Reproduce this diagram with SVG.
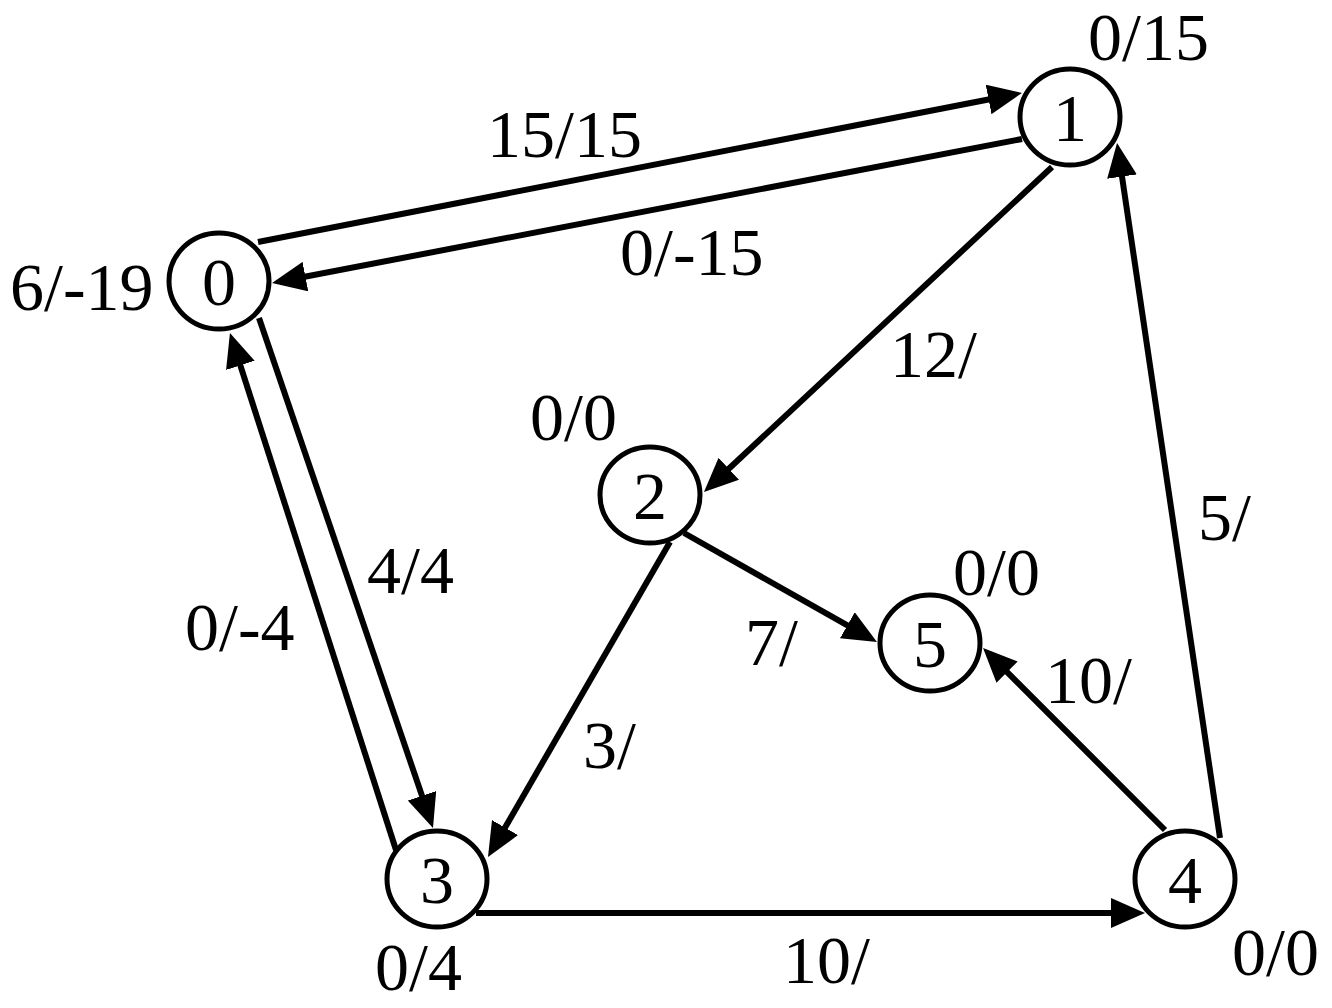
<svg xmlns="http://www.w3.org/2000/svg" width="1332" height="1008" viewBox="0 0 1332 1008">
<style>
.node ellipse{fill:#fff;stroke:#000;stroke-width:5}
text{font-family:"Liberation Serif","Times New Roman",serif;font-size:68px;fill:#000}
.nl{text-anchor:middle}
#edges line{stroke:#000;stroke-width:6;fill:none;marker-end:url(#ah)}
</style>
<defs>
<marker id="ah" viewBox="0 0 34 30" refX="26" refY="15" markerWidth="34" markerHeight="30" markerUnits="userSpaceOnUse" orient="auto">
<path d="M0,0 L34,15 L0,30 Z" fill="#000"/>
</marker>
</defs>
<rect width="1332" height="1008" fill="#fff"/>
<g id="edges">
<line x1="258" y1="242" x2="1014.1" y2="94.5"/>
<line x1="1022" y1="139" x2="279.9" y2="281.5"/>
<line x1="259" y1="318" x2="430.4" y2="820.4"/>
<line x1="396" y1="850" x2="232.4" y2="340.6"/>
<line x1="1052" y1="167" x2="709.8" y2="486.5"/>
<line x1="670" y1="542" x2="492" y2="850.1"/>
<line x1="684" y1="533" x2="870" y2="638.1"/>
<line x1="1165" y1="830" x2="988.7" y2="653.7"/>
<line x1="1220" y1="838" x2="1118.2" y2="150.9"/>
<line x1="476" y1="913" x2="1137" y2="913"/>
</g>
<g id="n0" class="node"><ellipse cx="219" cy="281" rx="50" ry="48"/><text class="nl" x="219" y="305">0</text></g>
<g id="n1" class="node"><ellipse cx="1070" cy="117" rx="50" ry="48"/><text class="nl" x="1070" y="141">1</text></g>
<g id="n2" class="node"><ellipse cx="650" cy="495" rx="50" ry="48"/><text class="nl" x="650" y="519">2</text></g>
<g id="n3" class="node"><ellipse cx="437" cy="879" rx="50" ry="48"/><text class="nl" x="437" y="903">3</text></g>
<g id="n4" class="node"><ellipse cx="1185" cy="879" rx="50" ry="48"/><text class="nl" x="1185" y="903">4</text></g>
<g id="n5" class="node"><ellipse cx="930" cy="643" rx="50" ry="48"/><text class="nl" x="930" y="667">5</text></g>
<g id="labels">
<text x="1088" y="60">0/15</text>
<text x="487" y="157">15/15</text>
<text x="620" y="275">0/-15</text>
<text x="10" y="310">6/-19</text>
<text x="890" y="377">12/</text>
<text x="530" y="440">0/0</text>
<text x="1198" y="540">5/</text>
<text x="367" y="593">4/4</text>
<text x="953" y="595">0/0</text>
<text x="185" y="650">0/-4</text>
<text x="745" y="665">7/</text>
<text x="1045" y="703">10/</text>
<text x="583" y="768">3/</text>
<text x="375" y="990">0/4</text>
<text x="783" y="983">10/</text>
<text x="1232" y="975">0/0</text>
</g>
</svg>
